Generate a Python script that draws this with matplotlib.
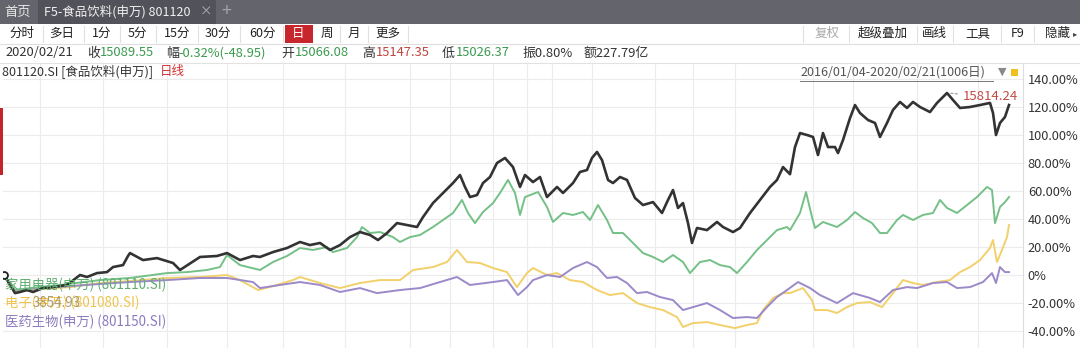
import matplotlib
matplotlib.use('Agg')
import matplotlib.pyplot as plt
from matplotlib.patches import Rectangle

plt.rcParams['font.family'] = ['Noto Sans CJK SC', 'DejaVu Sans']

# ---------------- data (trading-day index, % change since 2016/01/04) ----------------
food_day = [0, 6, 11, 16, 23, 29, 39, 49, 63, 76, 83, 93, 103, 109, 119, 124, 126, 139, 153, 169,
            176, 196, 213, 223, 236, 249, 256, 269, 283, 296, 306, 316, 326, 336, 346, 356, 366, 374, 383, 393,
            403, 413, 419, 429, 439, 449, 456, 461, 466, 473, 479, 486, 493, 501, 509, 516, 521, 529, 536, 543,
            553, 559, 569, 576, 583, 588, 593, 598, 604, 609, 616, 623, 631, 639, 649, 658, 664, 669, 674, 679,
            684, 688, 693, 703, 713, 719, 729, 736, 746, 756, 766, 773, 779, 786, 791, 796, 803, 809, 814, 819,
            824, 831, 834, 839, 846, 851, 856, 864, 871, 876, 883, 889, 896, 903, 909, 916, 926, 933, 943, 949,
            956, 966, 976, 986, 989, 992, 996, 1001, 1005]
food_pct = [0, -7.1, -12.9, -12.1, -10.7, -12.1, -9.3, -8.6, -7.1, 0, -1.4, 1.4, 2.1, 5.7, 7.1, 13.6, 15.7, 10.7, 12.1, 8.6,
            3.6, 12.9, 13.6, 15.7, 10.7, 13.6, 12.9, 16.4, 19.3, 23.6, 21.4, 22.9, 17.9, 21.4, 27.1, 30.7, 28.6, 25.0, 30.0, 37.1,
            35.7, 34.3, 41.4, 51.4, 58.6, 65.7, 71.4, 62.9, 55.7, 57.1, 65.7, 70.0, 80.0, 83.6, 77.1, 62.9, 71.4, 66.4, 70.0, 55.7,
            62.9, 58.6, 65.7, 73.6, 75.0, 83.6, 87.9, 82.1, 67.9, 65.7, 70.0, 67.9, 55.0, 50.0, 52.1, 44.3, 53.6, 60.7, 47.9, 51.4,
            37.1, 22.9, 33.6, 32.1, 37.9, 34.3, 30.7, 33.6, 44.3, 53.6, 62.9, 67.9, 77.1, 72.0, 91.4, 101.4, 100.0, 98.6, 85.7, 101.4,
            91.4, 91.4, 87.1, 96.4, 112.1, 121.4, 115.7, 110.7, 108.6, 98.6, 108.6, 117.9, 123.6, 119.3, 123.6, 120.0, 116.4, 122.9, 130.0, 125.0,
            119.3, 120.0, 121.4, 122.9, 115.7, 100.0, 108.6, 112.9, 121.4]

appl_day = [0, 11, 26, 56, 96, 126, 163, 183, 203, 216, 223, 236, 256, 269, 283, 296, 309, 323, 329, 343,
            353, 358, 366, 376, 389, 396, 406, 416, 429, 439, 449, 458, 464, 471, 479, 489, 496, 504, 511, 516,
            521, 534, 543, 549, 559, 569, 579, 586, 594, 603, 609, 619, 629, 639, 649, 659, 669, 679, 686, 696,
            706, 716, 726, 733, 743, 753, 763, 773, 783, 786, 796, 802, 808, 811, 819, 833, 843, 851, 859, 868,
            876, 883, 893, 899, 909, 919, 929, 936, 943, 953, 963, 973, 983, 988, 991, 996, 1001, 1005]
appl_pct = [0, -10.7, -9.3, -7.1, -3.6, -2.1, 1.4, 2.1, 3.6, 5.7, 14.3, 7.1, 3.6, 9.3, 13.6, 19.3, 17.9, 20.0, 16.4, 19.3,
            27.1, 34.3, 30.0, 30.7, 27.1, 23.6, 27.1, 28.6, 34.3, 39.3, 44.3, 53.6, 44.3, 37.1, 45.0, 51.4, 58.6, 67.9, 58.6, 42.9,
            55.7, 59.3, 48.6, 37.9, 44.3, 42.9, 45.0, 39.3, 50.0, 39.3, 30.0, 30.0, 22.9, 15.7, 12.9, 9.3, 14.3, 9.3, 1.4, 9.3,
            10.7, 7.1, 5.7, 1.4, 9.3, 17.9, 25.0, 32.1, 34.3, 32.1, 44.3, 59.3, 41.4, 33.6, 37.9, 34.3, 39.3, 45.0, 40.7, 37.1,
            30.0, 30.0, 39.3, 42.9, 39.3, 42.9, 44.3, 53.6, 47.9, 44.3, 50.0, 55.7, 62.9, 60.7, 37.1, 48.6, 52.1, 55.7]

elec_day = [0, 11, 36, 66, 96, 126, 163, 196, 223, 236, 254, 269, 289, 296, 316, 336, 356, 376, 396, 409,
            429, 443, 453, 463, 476, 489, 503, 513, 523, 529, 543, 553, 566, 579, 593, 606, 619, 633, 646, 659,
            673, 679, 689, 703, 716, 731, 743, 753, 759, 769, 779, 786, 799, 808, 811, 823, 833, 843, 853, 866,
            878, 889, 899, 909, 919, 933, 946, 956, 966, 976, 986, 989, 993, 998, 1003, 1005]
elec_pct = [0, -12.1, -10.0, -8.6, -5.7, -4.3, -2.1, -1.4, 0, -3.6, -10.7, -7.9, -3.6, -1.4, -5.7, -9.3, -5.7, -3.6, -3.6, 3.6,
            5.7, 9.3, 17.9, 9.3, 8.6, 5.0, 2.1, -8.6, 1.4, 5.0, 0, 1.4, -3.6, -5.0, -10.7, -14.3, -12.9, -20.0, -22.9, -25.0,
            -30.0, -37.1, -34.3, -33.6, -35.7, -37.9, -35.7, -34.3, -25.0, -16.4, -12.9, -12.9, -9.3, -17.9, -25.0, -25.0, -27.1, -22.9, -20.0, -19.3,
            -22.9, -12.9, -3.6, -5.7, -7.1, -5.0, -3.6, 2.1, 5.7, 10.7, 19.3, 25.0, 9.3, 17.9, 27.1, 35.7]

phar_day = [0, 11, 36, 66, 96, 126, 163, 196, 223, 249, 256, 276, 296, 316, 336, 356, 373, 396, 416, 436,
            453, 466, 489, 503, 514, 523, 529, 543, 556, 569, 583, 593, 603, 613, 623, 633, 643, 656, 669, 679,
            689, 703, 716, 729, 743, 753, 763, 773, 783, 794, 806, 816, 833, 849, 866, 876, 889, 903, 913, 929,
            943, 953, 966, 979, 988, 992, 996, 1001, 1005]
phar_pct = [0, -10.7, -9.3, -7.9, -6.4, -5.0, -3.6, -2.1, -2.1, -5.0, -9.3, -7.1, -5.0, -7.1, -12.1, -9.3, -12.9, -10.7, -9.3, -5.0,
            -1.4, -7.1, -5.0, -3.6, -14.3, -8.6, -3.6, 0, -1.4, 5.0, 9.3, 5.7, -2.1, -1.4, -5.7, -12.9, -12.1, -15.7, -17.9, -25.0,
            -22.9, -20.0, -25.0, -30.7, -30.0, -30.7, -22.9, -15.7, -10.7, -5.0, -9.3, -14.3, -20.0, -12.9, -16.4, -19.3, -10.7, -8.6, -9.3, -5.7,
            -5.0, -9.3, -8.6, -5.0, 1.4, -5.7, 5.7, 2.1, 2.1]

assert len(food_day) == len(food_pct)
assert len(appl_day) == len(appl_pct)
assert len(elec_day) == len(elec_pct)
assert len(phar_day) == len(phar_pct)

ytick_vals = [-40, -20, 0, 20, 40, 60, 80, 100, 120, 140]
ytick_labels = ['-40.00%', '-20.00%', '0%', '20.00%', '40.00%', '60.00%', '80.00%', '100.00%', '120.00%', '140.00%']
vgrid_days = [36, 99, 163, 223, 279, 341, 406, 446, 489, 523, 548, 588, 651, 689, 731, 809, 849, 913, 974]

peak_label = '15814.24'
legend_names = ['家用电器(申万) (801110.SI)', '电子(申万) (801080.SI)', '医药生物(申万) (801150.SI)']

# ---------------- figure ----------------
W, H = 1080, 348
fig = plt.figure(figsize=(W / 100, H / 100), dpi=100)
fig.patch.set_facecolor('white')

bg = fig.add_axes([0, 0, 1, 1], zorder=0)
bg.set_xlim(0, W); bg.set_ylim(H, 0); bg.axis('off')

# title bar
bg.add_patch(Rectangle((0, 0), W, 24, color='#64646c', lw=0))
bg.add_patch(Rectangle((38, 0), 178, 24, color='#52525a', lw=0))
bg.text(18, 12, '首页', color='#e6e6e6', fontsize=9.5, ha='center', va='center')
bg.text(44, 12, 'F5-食品饮料(申万) 801120', color='#f2f2f2', fontsize=9, ha='left', va='center')
bg.text(206, 12, '×', color='#b0b0b5', fontsize=9, ha='center', va='center')
bg.text(226, 11, '+', color='#a0a0a6', fontsize=13, ha='center', va='center')

# toolbar row
bg.plot([0, W], [44, 44], color='#dedede', lw=0.8)
bg.plot([0, W], [62.5, 62.5], color='#e2e2e2', lw=0.8)
left_btns = [('分时', 22), ('多日', 62), ('1分', 102), ('5分', 137), ('15分', 177), ('30分', 218),
             ('60分', 262), ('日', 298), ('周', 327), ('月', 354), ('更多', 388)]
bg.add_patch(Rectangle((285, 25), 28, 18, color='#c6262c', lw=0))
for lab, cx in left_btns:
    bg.text(cx, 33.5, lab, color='white' if lab == '日' else '#222222', fontsize=9, ha='center', va='center')
for sx in [43, 84, 120, 156, 198, 240, 283, 340, 368, 408]:
    bg.plot([sx, sx], [26, 42], color='#e0e0e0', lw=0.8)
right_btns = [('复权', 827, '#a8a8a8'), ('超级叠加', 883, '#222222'), ('画线', 934, '#222222'),
              ('工具', 978, '#222222'), ('F9', 1018, '#222222'), ('隐藏', 1058, '#222222')]
for lab, cx, c in right_btns:
    bg.text(cx, 33.5, lab, color=c, fontsize=9, ha='center', va='center')
bg.text(1075, 33.5, '▸', color='#444444', fontsize=6, ha='center', va='center', family='DejaVu Sans')
for sx in [803, 849, 917, 953, 1001, 1034]:
    bg.plot([sx, sx], [26, 42], color='#e0e0e0', lw=0.8)

# quote row
green_t = '#3a9a4e'
red_t = '#c0443f'
quote = [(5, '2020/02/21', '#333333'), (87, '收', '#333333'), (100, '15089.55', green_t),
         (166, '幅', '#333333'), (178, '-0.32%(-48.95)', green_t), (281, '开', '#333333'),
         (295, '15066.08', green_t), (362, '高', '#333333'), (376, '15147.35', red_t),
         (442, '低', '#333333'), (456, '15026.37', green_t), (522, '振0.80%', '#333333'),
         (584, '额227.79亿', '#333333')]
for x, s, c in quote:
    bg.text(x, 53, s, color=c, fontsize=9.3, ha='left', va='center')

# left red marker
bg.add_patch(Rectangle((0, 108), 3, 67, color='#c4252b', lw=0))

# ---------------- chart ----------------
ax = fig.add_axes([3 / W, 0, 1020 / W, 284 / H], zorder=1)
ax.patch.set_alpha(0)
ax.set_xlim(-1, 1019)
ax.set_ylim(-52.1, 150.7)
for s in ['left', 'top', 'bottom']:
    ax.spines[s].set_visible(False)
ax.spines['right'].set_color('#dddddd')
ax.spines['right'].set_linewidth(0.8)
ax.yaxis.tick_right()
ax.set_yticks(ytick_vals)
ax.set_yticklabels(ytick_labels)
ax.tick_params(axis='y', length=0, pad=3.5, labelsize=9.2, labelcolor='#333333')
ax.set_xticks([])
for v in ytick_vals:
    ax.axhline(v, color='#ececec', lw=0.8, zorder=0)
for d in vgrid_days:
    ax.axvline(d, color='#ececec', lw=0.8, zorder=0)

ax.plot(elec_day, elec_pct, color='#f2d06a', lw=1.4, zorder=2)
ax.plot(phar_day, phar_pct, color='#9c89c9', lw=1.4, zorder=3)
ax.plot(appl_day, appl_pct, color='#74c087', lw=1.4, zorder=4)
ax.plot(food_day, food_pct, color='#333333', lw=1.9, zorder=5)
ax.plot([food_day[0]], [food_pct[0]], marker='o', ms=5, mfc='white', mec='#222222', mew=1.3, zorder=6)

# peak annotation
ipk = food_pct.index(max(food_pct))
ax.annotate(peak_label, xy=(food_day[ipk], food_pct[ipk]), xytext=(food_day[ipk] + 16, food_pct[ipk] - 2.5),
            color='#c24a45', fontsize=9.5, ha='left', va='center', zorder=7,
            arrowprops=dict(arrowstyle='-', ls=(0, (2, 2)), color='#999999', lw=0.8))

# ---------------- overlay texts ----------------
fg = fig.add_axes([0, 0, 1, 1], zorder=5)
fg.set_xlim(0, W); fg.set_ylim(H, 0); fg.axis('off')
fg.patch.set_alpha(0)
fg.text(2, 72, '801120.SI [食品饮料(申万)]', color='#333333', fontsize=9, ha='left', va='center')
fg.text(160, 72, '日线', color='#d0302f', fontsize=9, ha='left', va='center')
fg.text(800, 72.5, '2016/01/04-2020/02/21(1006日)', color='#555555', fontsize=9, ha='left', va='center')
fg.plot([800, 993], [80.5, 80.5], color='#777777', lw=0.7)
fg.text(1002, 72, '▼', color='#8a8a8a', fontsize=8, ha='center', va='center', family='DejaVu Sans')
fg.add_patch(Rectangle((1011, 68.5), 7, 7, color='#f0c020', lw=0))

fg.text(5, 285, legend_names[0], color='#5fae70', fontsize=9.6, ha='left', va='center')
fg.text(5, 303, legend_names[1], color='#eec44c', fontsize=9.6, ha='left', va='center')
fg.text(33, 303, '3854.93', color='#a08c5a', fontsize=9.6, ha='left', va='center', alpha=0.85)
fg.text(5, 322, legend_names[2], color='#8c7bbf', fontsize=9.6, ha='left', va='center')

fig.savefig('out.png', dpi=100, facecolor='white')
